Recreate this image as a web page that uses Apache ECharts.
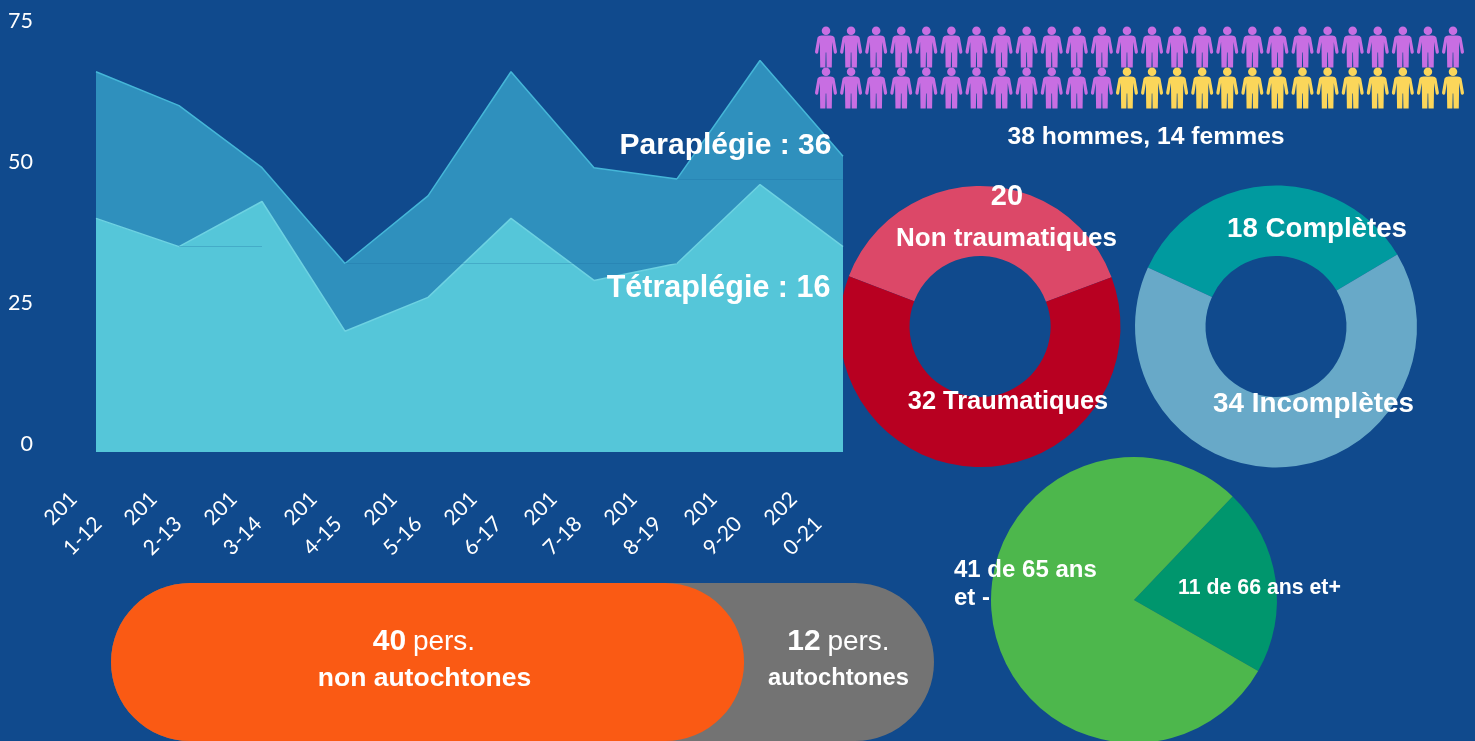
<!DOCTYPE html>
<html>
<head>
<meta charset="utf-8">
<style>
	html, body { margin: 0; padding: 0; background: #104a8d; overflow: hidden; }
	#chart { width: 1475px; height: 741px; }
</style>
<script src="https://cdn.jsdelivr.net/npm/echarts@6/dist/echarts.min.js"></script>
</head>
<body>
<div id="chart"></div>
<script>
	// donnees
	const years = ['2011-12', '2012-13', '2013-14', '2014-15', '2015-16', '2016-17', '2017-18', '2018-19', '2019-20', '2020-21'];
	const paraValues = [40, 35, 43, 20, 26, 40, 29, 32, 46, 35];
	const tetraValues = [26, 25, 6, 12, 18, 26, 20, 15, 22, 16];
	const yTicks = [0, 25, 50, 75];
	const hommes = 38;
	const femmes = 14;
	const perRow = 26;
	const etiologie = [{ name: 'Non traumatiques', value: 20 }, { name: 'Traumatiques', value: 32 }];
	const atteinte = [{ name: 'Complètes', value: 18 }, { name: 'Incomplètes', value: 34 }];
	const ages = [{ name: '66 ans et+', value: 11 }, { name: '65 ans et -', value: 41 }];
	const nonAutochtones = 40;
	const autochtones = 12;
	// fines lignes horizontales visibles dans l'aire : [debut, fin, valeur]
	const faintLines = [[1, 2, 35], [3, 7, 32], [7, 9, 47]];

	const personPath = 'path://M11 0a4.3 4.3 0 1 1 0 8.6a4.3 4.3 0 1 1 0-8.6ZM6.5 9L15.5 9Q18.5 9 19.5 11L22 25Q22.2 27 20.6 27.3Q19.2 27.5 18.8 26L17.2 15.5L16.8 41L11.6 41L11.3 26L10.7 26L10.4 41L5.2 41L4.8 15.5L3.2 26Q2.8 27.5 1.4 27.3Q-.2 27 0 25L2.5 11Q3.5 9 6.5 9Z';

	// pictogrammes : une case par personne
	const people = [];
	for (let i = 0; i < hommes + femmes; i++) {
		people.push({
			value: [i % perRow, Math.floor(i / perRow)],
			itemStyle: { color: i < hommes ? '#c86ee2' : '#fbd65a', opacity: 1 }
		});
	}

	const white = '#fff';
	const bold = (size) => 'bold ' + size + 'px "Liberation Sans", Arial, sans-serif';
	const label = (text, x, y, size, align) => ({
		type: 'text', z: 100, x: x, y: y,
		style: { text: text, fill: white, font: bold(size), align: align || 'center', verticalAlign: 'middle' }
	});
	const persLabel = (n, x, y) => ({
		type: 'text', z: 100, x: x, y: y,
		style: {
			text: '{n|' + n + '}  {p|pers.}', fill: white, align: 'center', verticalAlign: 'middle',
			rich: {
				n: { font: bold(30), fill: white },
				p: { font: '28px "Liberation Sans", Arial, sans-serif', fill: white }
			}
		}
	});
	const noAxis = { show: false };

	const chart = echarts.init(document.getElementById('chart'));
	chart.setOption({
		backgroundColor: '#104a8d',
		animation: false,
		grid: [
			{ left: 96, width: 747, top: 21, height: 431 },
			{ left: 86, width: 720, top: 21, height: 423 },
			{ left: 826, width: 627, top: 47, height: 41 },
			{ left: 111, width: 823, top: 583, height: 164 }
		],
		xAxis: [
			{ gridIndex: 0, type: 'category', data: years, boundaryGap: false, show: false },
			{
				gridIndex: 1, type: 'category', data: years, boundaryGap: false,
				axisLine: noAxis, axisTick: noAxis, splitLine: noAxis,
				axisLabel: {
					show: true, interval: 0, rotate: 45, color: white, margin: 64,
					fontFamily: 'Lato', fontSize: 21, lineHeight: 35,
					formatter: (v) => v.slice(0, 3) + '\n' + v.slice(3)
				}
			},
			{ gridIndex: 2, type: 'value', min: 0, max: perRow - 1, show: false },
			{ gridIndex: 3, type: 'value', min: 0, max: nonAutochtones + autochtones, show: false }
		],
		yAxis: [
			// l'aire descend un peu sous le zero, d'ou le min
			{ gridIndex: 0, type: 'value', min: -1.42, max: 75, show: false },
			{
				gridIndex: 1, type: 'value', min: yTicks[0], max: yTicks[3], interval: 25, offset: 53,
				axisLine: noAxis, axisTick: noAxis, splitLine: noAxis,
				axisLabel: { show: true, margin: 0, color: white, fontFamily: 'Lato', fontSize: 21.5 }
			},
			{ gridIndex: 2, type: 'value', min: 0, max: 1, inverse: true, show: false },
			{ gridIndex: 3, type: 'category', data: ['personnes'], show: false }
		],
		series: [
			{
				type: 'pie', z: 1, silent: true, center: [980, 326.5], radius: [70.5, 140.5], startAngle: 159,
				label: noAxis, labelLine: noAxis, data: etiologie,
				color: ['#dc4868', '#b80021']
			},
			{
				type: 'pie', z: 1, silent: true, center: [1276, 326.5], radius: [70.5, 141], startAngle: 155.3,
				label: noAxis, labelLine: noAxis, data: atteinte,
				color: ['#009a9f', '#68a9c8']
			},
			{
				type: 'pie', z: 1, silent: true, center: [1134, 600], radius: 143, startAngle: 46.4,
				label: noAxis, labelLine: noAxis, data: ages,
				color: ['#00966d', '#4db74c']
			},
			{
				name: 'Paraplégie', type: 'line', z: 3, xAxisIndex: 0, yAxisIndex: 0, stack: 'total',
				data: paraValues, symbol: 'none',
				lineStyle: { color: '#6dd2e2', width: 1.5 },
				areaStyle: { color: '#55c6d9', opacity: 1, origin: 'start' },
				markLine: {
					silent: true, symbol: 'none', animation: false, label: noAxis,
					lineStyle: { color: '#1f6fa3', width: 1, type: 'solid', opacity: 0.3 },
					data: faintLines.map((l) => [{ coord: [l[0], l[2]] }, { coord: [l[1], l[2]] }])
				}
			},
			{
				name: 'Tétraplégie', type: 'line', z: 2, xAxisIndex: 0, yAxisIndex: 0, stack: 'total',
				data: tetraValues, symbol: 'none',
				lineStyle: { color: '#45b6d8', width: 1.5 },
				areaStyle: { color: '#2f90bd', opacity: 1 }
			},
			{
				type: 'scatter', xAxisIndex: 2, yAxisIndex: 2, z: 4, silent: true,
				symbol: personPath, symbolSize: [22, 41], data: people
			},
			{
				name: 'autochtones', type: 'bar', xAxisIndex: 3, yAxisIndex: 3, z: 2, barWidth: 164, barGap: '-100%',
				data: [nonAutochtones + autochtones],
				itemStyle: { color: '#737373', borderRadius: 82 }
			},
			{
				name: 'non autochtones', type: 'bar', xAxisIndex: 3, yAxisIndex: 3, z: 3, barWidth: 164, barGap: '-100%',
				data: [nonAutochtones],
				itemStyle: { color: '#fa5a14', borderRadius: 82 }
			}
		],
		graphic: [
			label('Paraplégie : 36', 725.5, 146, 30),
			label('Tétraplégie : 16', 718.5, 289, 30.5),
			label('38 hommes, 14 femmes', 1146, 137, 24.7),
			label('20', 1007, 197, 29),
			label('Non traumatiques', 1006.5, 239, 26),
			label('32 Traumatiques', 1008, 402, 25.4),
			label('18 Complètes', 1317, 229, 27.7),
			label('34 Incomplètes', 1313.5, 404, 27.8),
			label('41 de 65 ans', 954, 570, 24, 'left'),
			label('et -', 954, 598, 24, 'left'),
			label('11 de 66 ans et+', 1259.5, 588, 21.3),
			persLabel(nonAutochtones, 424, 642),
			label('non autochtones', 424.5, 679, 26.5),
			persLabel(autochtones, 838.5, 642),
			label('autochtones', 838.5, 678, 23.7)
		]
	});
</script>
</body>
</html>
